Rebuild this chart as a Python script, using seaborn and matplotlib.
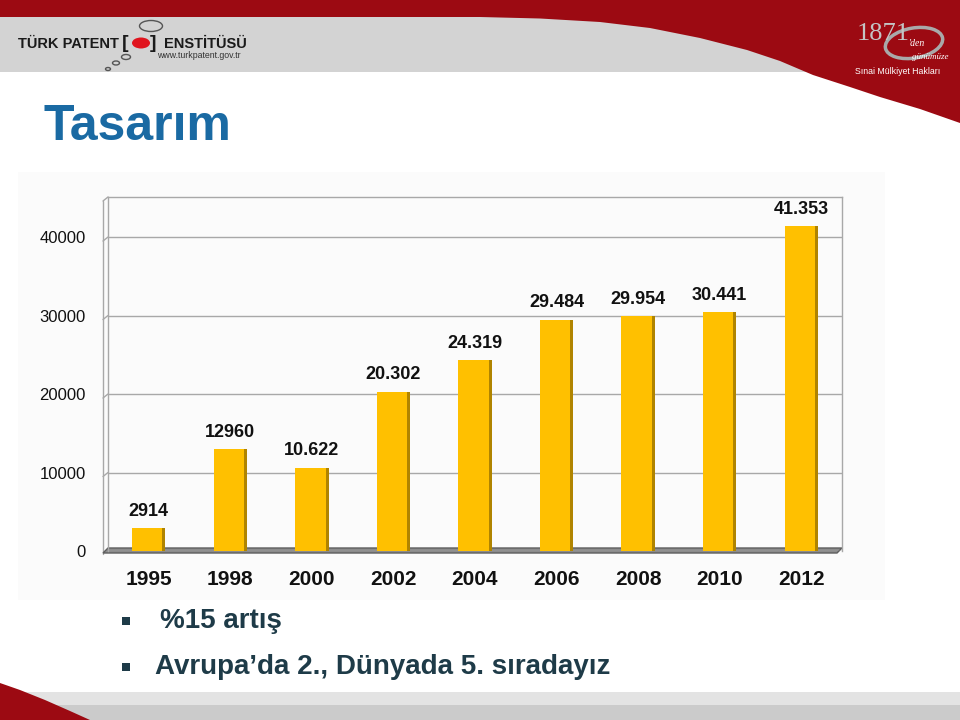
import matplotlib
matplotlib.use('Agg')
import matplotlib.pyplot as plt
import seaborn as sns
from matplotlib.patches import Rectangle, Polygon, Ellipse

# ---------------- data ----------------
years = ['1995', '1998', '2000', '2002', '2004', '2006', '2008', '2010', '2012']
applications = [2914, 12960, 10622, 20302, 24319, 29484, 29954, 30441, 41353]
value_labels = ['2914', '12960', '10.622', '20.302', '24.319', '29.484', '29.954', '30.441', '41.353']
y_ticks = [0, 10000, 20000, 30000, 40000]
title_text = 'Tasarım'
bullet_lines = ['%15 artış', 'Avrupa’da 2., Dünyada 5. sıradayız']

# ---------------- style ----------------
sns.set_theme(style='white')
plt.rcParams['font.family'] = ['Liberation Sans', 'DejaVu Sans']

RED = '#9C0A12'
BAND_GRAY = '#D3D3D3'
BLUE = '#1A6AA3'
SLATE = '#1E3B48'
GOLD = '#FFC000'
GOLD_DARK = '#B08400'
GRID = '#A8A8A8'

W, H = 960, 720
fig = plt.figure(figsize=(9.6, 7.2), dpi=100)
fig.patch.set_facecolor('white')

# background / decoration layer in pixel coordinates
bg = fig.add_axes([0, 0, 1, 1], zorder=0)
bg.set_xlim(0, W)
bg.set_ylim(H, 0)
bg.axis('off')

# header
bg.add_patch(Rectangle((0, 17), W, 55, color=BAND_GRAY, lw=0))
curve = [(480, 17), (540, 18.5), (600, 22), (650, 28), (700, 38), (747, 50),
         (780, 61), (813, 75), (850, 87), (880, 97), (920, 109), (960, 123)]
bg.add_patch(Polygon([(0, 0), (W, 0)] + curve[::-1] + [(0, 17)],
                     closed=True, color=RED, lw=0))

# left logo
bg.text(18, 44, 'TÜRK PATENT', fontsize=10.5, fontweight='bold', color='#1a1a1a',
        ha='left', va='center')
bg.text(122, 43, '[', fontsize=14, fontweight='bold', color='#1a1a1a', ha='left', va='center')
bg.add_patch(Ellipse((141, 43), 18, 11, color='#E0141E', lw=0))
bg.text(150, 43, ']', fontsize=14, fontweight='bold', color='#1a1a1a', ha='left', va='center')
bg.text(164, 44, 'ENSTİTÜSÜ', fontsize=10.5, fontweight='bold', color='#1a1a1a',
        ha='left', va='center')
bg.text(157, 56, 'www.turkpatent.gov.tr', fontsize=6.3, color='#333333', ha='left', va='center')
bg.add_patch(Ellipse((151, 26), 23, 11, fill=False, ec='#555555', lw=1))
bg.add_patch(Ellipse((126, 57), 9, 5, fill=False, ec='#555555', lw=1))
bg.add_patch(Ellipse((116, 63), 7, 4, fill=False, ec='#555555', lw=1))
bg.add_patch(Ellipse((108, 69), 5, 3, fill=False, ec='#555555', lw=1))

# right logo
bg.add_patch(Ellipse((914, 43), 58, 30, fill=False, ec='#A9A9A9', lw=2.5, angle=-10))
bg.text(857, 34, '1871', fontsize=19, color='#C4C4C4', family=['Liberation Serif'],
        ha='left', va='center')
bg.text(909, 43, "'den", fontsize=7, color='white', style='italic',
        family=['Liberation Serif'], ha='left', va='center')
bg.text(912, 57, 'günümüze', fontsize=6.5, color='white', style='italic',
        family=['Liberation Serif'], ha='left', va='center')
bg.text(898, 72, 'Sınai Mülkiyet Hakları', fontsize=6.3, color='white', ha='center', va='center')

# title
bg.text(44, 140, title_text, fontsize=36, fontweight='bold', color=BLUE,
        ha='left', va='baseline')

# faint chart panel
bg.add_patch(Rectangle((18, 172), 867, 428, color='#FBFBFB', lw=0))

# bottom band
bg.add_patch(Rectangle((0, 692), W, 13, color='#E3E3E3', lw=0))
bg.add_patch(Rectangle((0, 705), W, 15, color='#CBCBCB', lw=0))
bg.add_patch(Polygon([(0, 683), (20, 690), (45, 700), (70, 711), (90, 720), (0, 720)],
                     closed=True, color=RED, lw=0))

# bullets
bullet_y = [621, 667]
bullet_x = [160, 155]
for yy, xx, txt in zip(bullet_y, bullet_x, bullet_lines):
    bg.add_patch(Rectangle((122, yy - 4), 8, 8, color=SLATE, lw=0))
    bg.text(xx, yy, txt, fontsize=20, fontweight='bold', color=SLATE,
            ha='left', va='center')

# ---------------- chart ----------------
x0, x1 = 108, 842
yb, yt = 551, 197
YMAX = 45100
ax = fig.add_axes([x0 / W, (H - yb) / H, (x1 - x0) / W, (yb - yt) / H], zorder=1)
ax.set_facecolor('none')

# 3D-ish frame decorations (left wall + floor) in pixel coords
for gy in [yt] + [yb - v * (yb - yt) / YMAX for v in y_ticks[1:]]:
    bg.plot([x0 - 5, x0], [gy + 4, gy], color=GRID, lw=1)
bg.plot([x0 - 5, x0 - 5], [yt + 4, yb + 3], color=GRID, lw=1)
bg.add_patch(Polygon([(x0, yb - 3), (x1, yb - 3), (x1 - 5, yb + 2), (x0 - 5, yb + 2)],
                     closed=True, fc='#8C8C8C', ec='#5E5E5E', lw=1, zorder=3))

sns.barplot(x=years, y=applications, color=GOLD, saturation=1, width=0.41,
            edgecolor='none', ax=ax, zorder=4)
ax.set_ylim(0, YMAX)
ax.set_xlim(-0.5, len(years) - 0.5)

# darker right side of each bar (3D shading) from the bar geometry
for p in list(ax.patches):
    bx, bw, bh = p.get_x(), p.get_width(), p.get_height()
    ax.add_patch(Rectangle((bx + bw * 0.91, 0), bw * 0.09, bh, color=GOLD_DARK, lw=0, zorder=5))

for i, (v, lab) in enumerate(zip(applications, value_labels)):
    ax.annotate(lab, (i, v), xytext=(0, 12), textcoords='offset points',
                ha='center', va='center', fontsize=13, fontweight='bold', color='#111111')

ax.set_yticks(y_ticks)
ax.set_yticklabels([str(t) for t in y_ticks])
ax.yaxis.grid(True, color=GRID, lw=1)
ax.xaxis.grid(False)
ax.set_axisbelow(True)
ax.tick_params(axis='y', length=0, pad=16, labelsize=12, labelcolor='#111111')
ax.tick_params(axis='x', length=0, pad=14, labelsize=15, labelcolor='#111111')
for t in ax.get_xticklabels():
    t.set_fontweight('bold')
for s in ['left', 'top', 'right']:
    ax.spines[s].set_color(GRID)
    ax.spines[s].set_linewidth(1)
ax.spines['bottom'].set_visible(False)
ax.set_xlabel('')
ax.set_ylabel('')

fig.savefig('out.png', dpi=100)
